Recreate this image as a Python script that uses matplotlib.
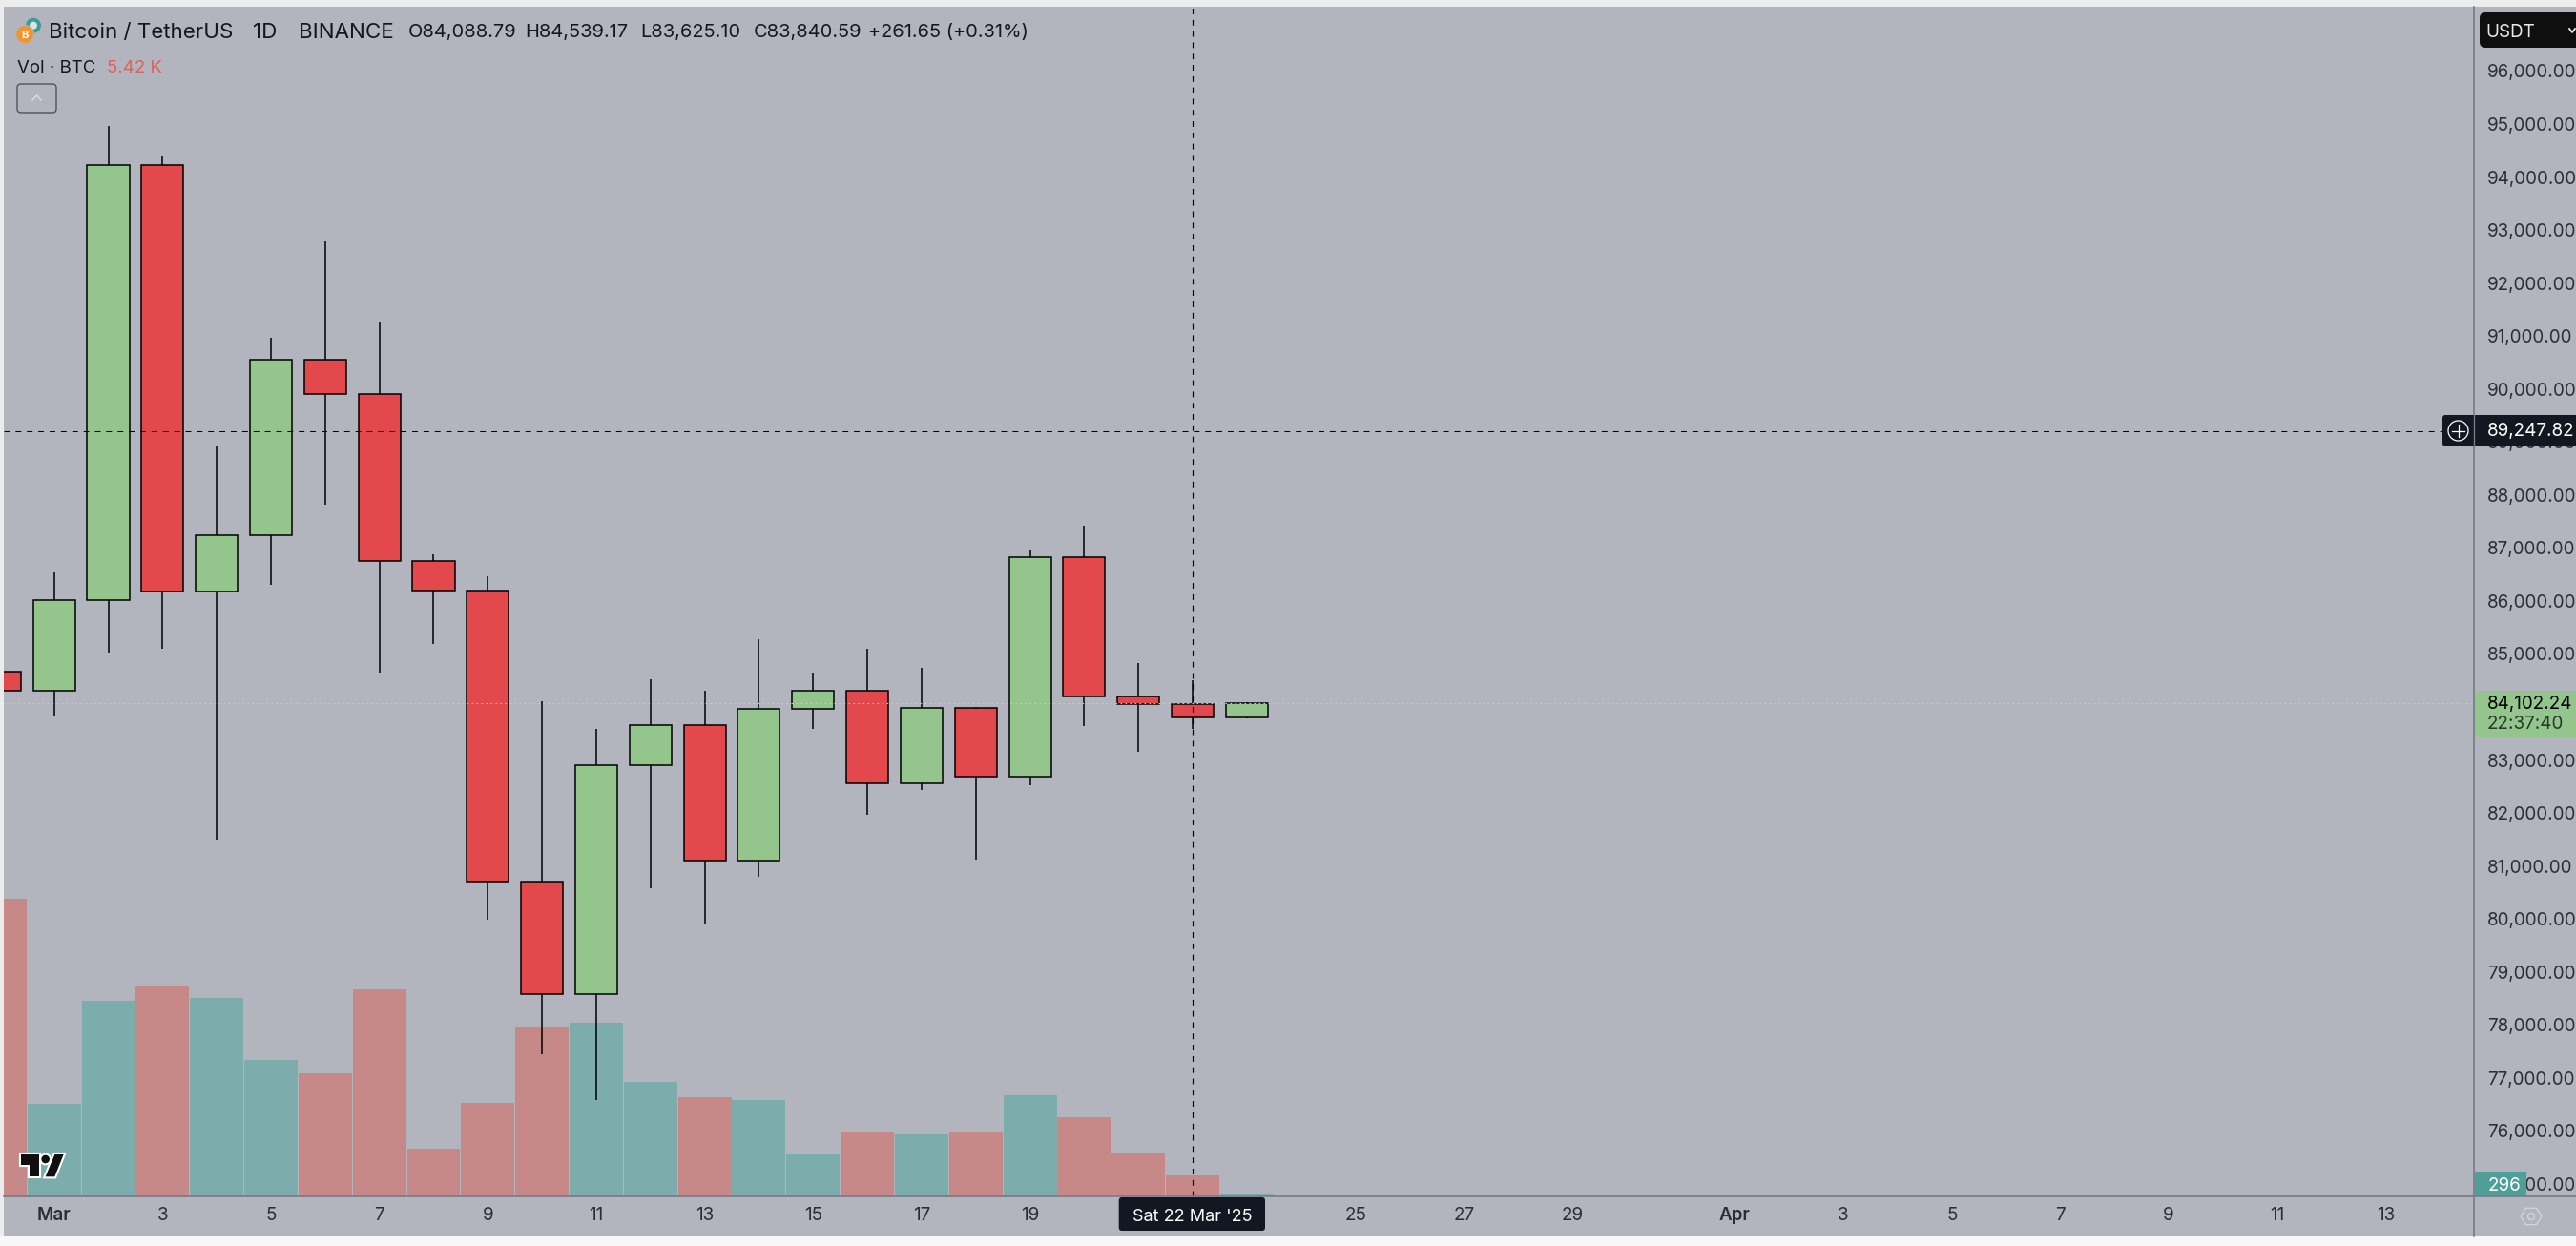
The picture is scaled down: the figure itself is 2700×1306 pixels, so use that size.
"""Bitcoin / TetherUS daily candles with volume, TradingView style."""

import numpy as np
import matplotlib
matplotlib.use('Agg')
import matplotlib.pyplot as plt
from matplotlib.patches import Circle, FancyBboxPatch, Polygon, Rectangle

plt.rcParams['font.family'] = ['Inter', 'DejaVu Sans']

# Daily bars, first one is Feb 28 (cut off by the left edge)
dayIndex = np.arange(-1, 23)
opens = [84709, 84349, 86059, 94270, 86223, 87284, 90598, 89934, 86798, 86227, 80735, 78611,
         82932, 83688, 81131, 83994, 84336, 82590, 84012, 82716, 86857, 84228, 84088.79, 83840.59]
closes = [84349, 86059, 94270, 86223, 87284, 90598, 89934, 86798, 86227, 80735, 78611, 82932,
          83688, 81131, 83994, 84336, 82590, 84012, 82716, 86857, 84228, 84088.79, 83840.59, 84102.24]
highs = [84709, 86574, 95002, 94428, 88971, 91002, 92822, 91292, 86916, 86502, 84144, 83621,
         84558, 84342, 85314, 84684, 85134, 84774, 84036, 87006, 87456, 84864, 84539.17, 84120]
lows = [84349, 83855, 85065, 85141, 81533, 86335, 87851, 84686, 85224, 80026, 77487, 76623,
        80620, 79954, 80836, 83627, 82006, 82475, 81160, 82565, 83681, 83195, 83625.10, 83820]
volumes = [76850, 23890, 50490, 54430, 51230, 35220, 31770, 53450, 12315, 24140, 43840, 44830,
           29560, 25620, 24880, 10840, 16500, 16010, 16500, 26110, 20440, 11330, 5420, 296]

priceTicks = list(range(75000, 97000, 1000))
dateTickIndex = [0, 2, 4, 6, 8, 10, 12, 14, 16, 18, 24, 26, 28, 31, 33, 35, 37, 39, 41, 43]
dateTickLabels = ['Mar', '3', '5', '7', '9', '11', '13', '15', '17', '19', '25', '27', '29',
                  'Apr', '3', '5', '7', '9', '11', '13']

crosshairPrice = 89247.82
crosshairDay = 21
lastPrice = 84102.24

BG = '#b2b5be'
UP = '#93c58d'
DOWN = '#e3484d'
VOL_UP = '#7cacac'
VOL_DOWN = '#c78888'
INK = '#131722'
AXIS = '#787b86'

W, H = 2700, 1306
LEFT, RIGHT, TOP, BOTTOM = 4, 2593, 7, 1254


def main():
    fig = plt.figure(figsize=(W / 100, H / 100), dpi=100, facecolor='#ececec')
    rect = [LEFT / W, 1 - BOTTOM / H, (RIGHT - LEFT) / W, (BOTTOM - TOP) / H]

    # Panel behind everything, including the two axis strips
    back = fig.add_axes([0, 0, 1, 1], zorder=0)
    back.set_xlim(0, W)
    back.set_ylim(H, 0)
    back.axis('off')
    back.add_patch(Rectangle((LEFT, TOP), W - LEFT, 1296 - TOP, facecolor=BG, linewidth=0))
    back.add_patch(Rectangle((0, 1296), W, H - 1296, facecolor='#f7f7f7', linewidth=0))

    # Volume sits behind the candles on its own scale
    axVol = fig.add_axes(rect, zorder=1)
    axVol.set_xlim(-0.927, 44.63)
    axVol.set_ylim(0, (BOTTOM - TOP) / 0.00406)
    axVol.axis('off')
    volColors = [VOL_UP if c >= o else VOL_DOWN for o, c in zip(opens, closes)]
    # very small bars keep a minimum height of about 3 pixels
    axVol.bar(dayIndex, np.maximum(volumes, 740), width=0.985, color=volColors, linewidth=0, zorder=2)

    ax = fig.add_axes(rect, zorder=2)
    ax.patch.set_visible(False)
    ax.set_xlim(-0.927, 44.63)
    ax.set_ylim(74799, 97251)
    for spine in ax.spines.values():
        spine.set_visible(False)

    ax.yaxis.tick_right()
    ax.set_yticks(priceTicks)
    ax.set_yticklabels(['{:,.2f}'.format(p) for p in priceTicks], color='#2a2e39', fontsize=13.55,
                       va='center')
    ax.tick_params(axis='y', length=0, pad=10)
    ax.set_xticks(dateTickIndex)
    ax.set_xticklabels(dateTickLabels, color='#2a2e39', fontsize=13.55)
    ax.tick_params(axis='x', length=0, pad=8)
    for lbl, txt in zip(ax.get_xticklabels(), dateTickLabels):
        if txt in ('Mar', 'Apr'):
            lbl.set_fontweight('semibold')

    bodyColors = [UP if c >= o else DOWN for o, c in zip(opens, closes)]
    bodyLow = np.minimum(opens, closes)
    bodyHeight = np.abs(np.array(closes) - np.array(opens))
    ax.vlines(dayIndex, lows, highs, color='black', linewidth=1.1, zorder=3)
    ax.bar(dayIndex, bodyHeight, bottom=bodyLow, width=0.775, color=bodyColors,
           edgecolor='black', linewidth=1.1, zorder=4)

    # last price and crosshair
    ax.axhline(lastPrice, color='#bcd6ae', linewidth=0.8, linestyle=(0, (1.5, 3)), zorder=5)
    ax.axhline(crosshairPrice, color='black', linewidth=0.75, linestyle=(0, (5.7, 5.7)), zorder=6)
    ax.axvline(crosshairDay, color='black', linewidth=0.85, linestyle=(0, (5, 5)), zorder=6)

    # Everything below is interface chrome, placed in pixels
    ui = fig.add_axes([0, 0, 1, 1], zorder=3)
    ui.set_xlim(0, W)
    ui.set_ylim(H, 0)
    ui.axis('off')

    def box(x0, y0, x1, y1, color, rounding=0, **kw):
        if rounding:
            p = FancyBboxPatch((x0, y0), x1 - x0, y1 - y0, boxstyle='round,pad=0,rounding_size=%g' % rounding,
                               facecolor=color, linewidth=0, **kw)
        else:
            p = Rectangle((x0, y0), x1 - x0, y1 - y0, facecolor=color, linewidth=0, **kw)
        ui.add_patch(p)

    def label(x, y, s, size=13.55, color=INK, ha='left', **kw):
        ui.text(x, y, s, fontsize=size, color=color, ha=ha, va='center_baseline', **kw)

    # axis lines
    ui.plot([LEFT, W], [BOTTOM, BOTTOM], color=AXIS, linewidth=1.2)
    ui.plot([RIGHT, RIGHT], [TOP, 1296], color=AXIS, linewidth=1.2, zorder=1)

    # legend rows
    ui.add_patch(Circle((35, 26.7), 8, facecolor='#3e9a96', linewidth=0))
    ui.add_patch(Circle((35, 26.7), 4, facecolor='#d8e4e4', linewidth=0))
    ui.add_patch(Circle((26, 36), 9.5, facecolor='#f0952f', edgecolor=BG, linewidth=0.8))
    label(26, 36, 'B', size=8, color='white', ha='center', fontweight='bold')
    label(51, 32, 'Bitcoin / TetherUS', size=16.1)
    label(265.5, 32, '1D', size=16.1)
    label(313, 32, 'BINANCE', size=16.1)
    label(428, 32, 'O84,088.79', size=14.4)
    label(550, 32, 'H84,539.17', size=14.4)
    label(671, 32, 'L83,625.10', size=14.4)
    label(790, 32, 'C83,840.59', size=14.4)
    label(910, 32, '+261.65 (+0.31%)', size=14.4)
    label(17.5, 69, 'Vol \u00b7 BTC', size=13.4)
    label(112, 69, '5.42 K', size=13.4, color='#e0605c')
    ui.add_patch(FancyBboxPatch((18, 88), 41, 30, boxstyle='round,pad=0,rounding_size=4',
                                facecolor='none', edgecolor='#50535e', linewidth=1.0))
    ui.plot([34, 38.5, 43], [105, 100, 105], color='#dcdde1', linewidth=1.0)

    # USDT button
    box(2599, 13, 2712, 50, '#0f0f0f', rounding=6)
    label(2605, 32, 'USDT', size=13.55, color='#e8e8e8')
    ui.plot([2693, 2696, 2699], [30, 34, 30], color='white', linewidth=1.2)

    # crosshair price tag
    box(2560, 435, W + 10, 467.7, INK, rounding=3)
    ui.plot([RIGHT, RIGHT], [435, 467.7], color=AXIS, linewidth=1.0)
    ui.add_patch(Circle((2576.5, 451.5), 10.5, facecolor='none', edgecolor='white', linewidth=0.9))
    ui.plot([2570, 2583], [451.5, 451.5], color='white', linewidth=0.9)
    ui.plot([2576.5, 2576.5], [445, 458], color='white', linewidth=0.9)
    label(2607, 450, '{:,.2f}'.format(crosshairPrice), color='white')

    # last price tag
    box(RIGHT + 1, 724, W, 772, UP)
    label(2607, 736, '{:,.2f}'.format(lastPrice), color='black')
    label(2607, 757, '22:37:40', color='#27392a')

    # last volume tag
    box(RIGHT + 1, 1228, 2648, 1254, '#4d9f97')
    label(2608, 1241, '296', color='white')

    # date tag on the crosshair
    box(1172.7, BOTTOM + 1, 1326, 1290, INK, rounding=3)
    label(1249.5, 1274, "Sat 22 Mar '25", size=13.0, color='white', ha='center')

    # settings hexagon
    hexX = 2653 + 11 * np.cos(np.arange(6) * np.pi / 3)
    hexY = 1275 + 10 * np.sin(np.arange(6) * np.pi / 3)
    ui.add_patch(Polygon(np.column_stack([hexX, hexY]), closed=True, facecolor='none',
                         edgecolor='#d3d4d9', linewidth=1.0))
    ui.add_patch(Circle((2653, 1275), 3.5, facecolor='none', edgecolor='#d3d4d9', linewidth=1.0))

    # TradingView mark
    tShape = np.array([(65, 870), (122, 870), (122, 940), (92, 940), (92, 902), (65, 902)]) / 3 + [0, 920]
    slash = np.array([(172, 870), (200, 870), (172, 940), (143, 940)]) / 3 + [0, 920]
    for edge, lw in (('white', 3.0), ('#0f0f0f', 0.0)):
        ui.add_patch(Polygon(tShape, closed=True, facecolor='#0f0f0f', edgecolor=edge, linewidth=lw))
        ui.add_patch(Polygon(slash, closed=True, facecolor='#0f0f0f', edgecolor=edge, linewidth=lw))
        ui.add_patch(Circle((143 / 3, 920 + 885 / 3), 4.3, facecolor='#0f0f0f', edgecolor=edge, linewidth=lw))

    fig.savefig('out.png', dpi=100, facecolor=fig.get_facecolor())


if (__name__ == "__main__"):
    main()
